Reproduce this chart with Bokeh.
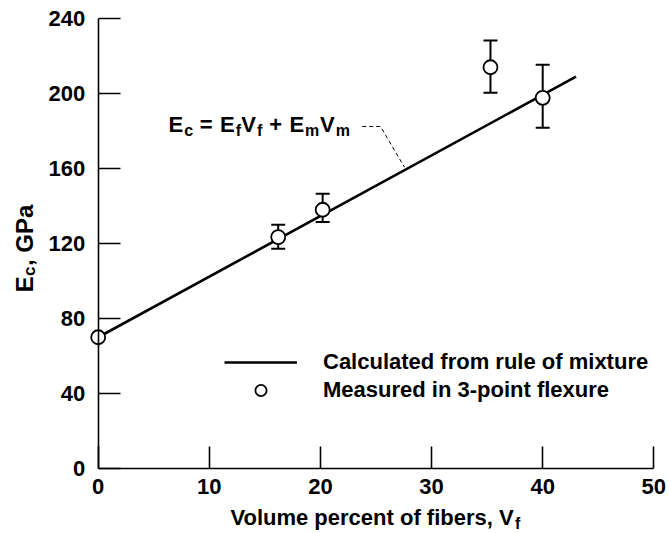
import math
from bokeh.plotting import figure
from bokeh.models import (ColumnDataSource, Range1d, FixedTicker, Whisker, TeeHead,
                          Label, Legend, LegendItem)
from bokeh.embed import file_html
from bokeh.resources import INLINE

# ---------------- data ----------------
vf_measured = [0.0, 16.2, 20.2, 35.3, 40.0]
ec_measured = [70.0, 123.4, 138.0, 214.0, 197.7]
err_vf = [16.2, 20.2, 35.3, 40.0]
err_upper = [130.0, 146.5, 228.3, 215.3]
err_lower = [117.2, 131.4, 200.4, 181.7]
rule_vf = [0.0, 43.0]
rule_ec = [70.0, 209.0]
leader_vf = [23.76, 25.40, 27.56]
leader_ec = [182.4, 182.4, 160.7]
x_ticks = [0, 10, 20, 30, 40, 50]
y_ticks = [0, 40, 80, 120, 160, 200, 240]
legend_labels = ["Calculated from rule of mixture", "Measured in 3-point flexure"]
x_title = "Volume percent of fibers, V"
x_title_sub = "f"
y_title = ["E", "c", ", GPa"]
equation = [("E", False), ("c", True), ("=", False), ("E", False), ("f", True),
            ("V", False), ("f", True), ("+", False), ("E", False), ("m", True),
            ("V", False), ("m", True)]

FONT = "Liberation Sans"

# the frame fills the whole canvas; axes are placed at data 0 with fixed_location
p = figure(width=669, height=533, x_range=Range1d(-8.79, 51.41), y_range=Range1d(-34.67, 249.6),
           output_backend="svg", toolbar_location=None,
           min_border_left=0, min_border_right=0, min_border_top=0, min_border_bottom=0)
p.outline_line_color = None
p.grid.visible = False
p.background_fill_color = "white"
p.border_fill_color = "white"

for ax, ticks in ((p.xaxis, x_ticks), (p.yaxis, y_ticks)):
    ax.ticker = FixedTicker(ticks=ticks)
    ax.fixed_location = 0
    ax.major_tick_in = 22
    ax.major_tick_out = 0
    ax.minor_tick_in = 0
    ax.minor_tick_out = 0
    ax.axis_line_width = 1.6
    ax.major_tick_line_width = 1.6
    ax.axis_line_color = "black"
    ax.major_tick_line_color = "black"
    ax.major_label_text_font = FONT
    ax.major_label_text_font_style = "bold"
    ax.major_label_text_font_size = "22px"
    ax.major_label_text_color = "black"
p.xaxis.bounds = (0, 50)
p.yaxis.bounds = (0, 240)
p.xaxis.major_label_standoff = 11
p.yaxis.major_label_standoff = 13

# error bars
esrc = ColumnDataSource(dict(x=err_vf, upper=err_upper, lower=err_lower))
p.add_layout(Whisker(base="x", upper="upper", lower="lower", source=esrc,
                     dimension="height", line_width=2, line_color="black", level="underlay",
                     upper_head=TeeHead(size=14, line_width=2, line_color="black"),
                     lower_head=TeeHead(size=14, line_width=2, line_color="black")))

# rule of mixture line
line_r = p.line(rule_vf, rule_ec, line_width=2.6, line_color="black")
# leader
p.line(leader_vf, leader_ec, line_width=1, line_color="black", line_dash="4 3")
# measured points
pts_r = p.scatter(vf_measured, ec_measured, marker="circle", size=14,
                  fill_color="white", line_color="black", line_width=1.8)

legend = Legend(items=[LegendItem(label=legend_labels[0], renderers=[line_r]),
                       LegendItem(label=legend_labels[1], renderers=[pts_r])],
                location=(224, 129), glyph_width=73, glyph_height=28, label_height=28,
                spacing=0, padding=0, margin=0, label_standoff=26,
                border_line_color=None, background_fill_alpha=0,
                label_text_font=FONT, label_text_font_style="bold",
                label_text_font_size="22px", label_text_color="black")
p.add_layout(legend)


def lab(text, x, y, size, angle=0.0):
    p.add_layout(Label(x=x, y=y, text=text, text_font=FONT, text_font_style="bold",
                       text_font_size=f"{size}px", text_baseline="alphabetic",
                       text_color="black", angle=angle))


# equation
eq_x = [6.33, 7.74, 9.15, 10.96, 12.37, 12.88, 14.29, 15.40, 17.21, 18.62, 19.96, 21.37]
for (t, sub), xx in zip(equation, eq_x):
    if sub:
        lab(t, xx, 180.0, 16)
    else:
        lab(t, xx, 183.6, 22)

# x title
lab(x_title, 11.9, -26.0, 22)
lab(x_title_sub, 37.5, -29.4, 16)

# y title (rotated)
lab(y_title[0], -6.64, 94.0, 24, math.pi / 2)
lab(y_title[1], -6.20, 102.7, 17, math.pi / 2)
lab(y_title[2], -6.64, 108.0, 24, math.pi / 2)

open("out.html", "w").write(file_html(p, INLINE))
